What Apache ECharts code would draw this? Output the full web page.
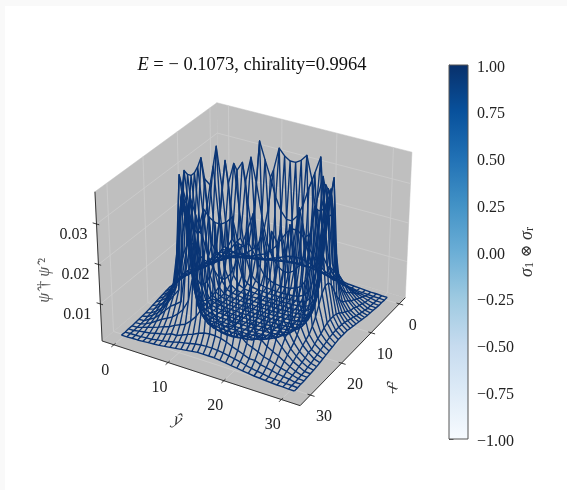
<!DOCTYPE html>
<html><head><meta charset="utf-8">
<style>
html,body{margin:0;padding:0;background:#fff;width:567px;height:490px;overflow:hidden}
#edge{position:absolute;left:0;top:0;width:567px;height:490px;box-sizing:border-box;border-left:5px solid #f9f9f9;border-top:6px solid #f9f9f9}
#c{position:absolute;left:0;top:0;width:567px;height:490px;filter:blur(0.45px)}
</style>
<script src="https://cdn.jsdelivr.net/npm/echarts@6/dist/echarts.min.js"></script>
</head><body><div id="edge"></div><div id="c"></div>
<script>
// Mesh coordinates
const xValues=[0,1,2,3,4,5,6,7,8,9,10,11,12,13,14,15,16,17,18,19,20,21,22,23,24,25,26,27,28,29,30,31];
const yValues=[0,1,2,3,4,5,6,7,8,9,10,11,12,13,14,15,16,17,18,19,20,21,22,23,24,25,26,27,28,29,30,31];
// Height of the surface, in units of 0.0001; one row per x value
const zRows=[
[12,12,13,13,14,15,16,17,19,21,23,25,27,29,31,31,31,31,29,27,25,23,21,19,17,16,15,14,13,13,12,12],
[12,13,13,14,15,16,19,21,24,27,31,34,37,40,42,43,43,42,40,37,34,31,27,24,21,19,16,15,14,13,13,12],
[13,13,16,18,20,24,27,30,36,36,42,48,53,60,65,67,67,65,60,53,48,42,36,36,30,27,24,20,18,16,13,13],
[13,14,18,23,27,32,38,42,50,56,62,75,91,114,136,148,148,136,114,91,75,62,56,50,42,38,32,27,23,18,14,13],
[14,15,20,27,36,45,52,60,72,88,114,190,295,354,338,329,329,338,354,295,190,114,88,72,60,52,45,36,27,20,15,14],
[15,16,24,32,45,60,75,85,96,190,367,324,283,236,204,187,187,204,236,283,324,367,190,96,85,75,60,45,32,24,16,15],
[16,19,27,38,52,75,95,114,265,329,267,187,122,86,67,58,58,67,86,122,187,267,329,265,114,95,75,52,38,27,19,16],
[17,21,30,42,60,85,114,295,319,220,122,67,43,33,28,26,26,28,33,43,67,122,220,319,295,114,85,60,42,30,21,17],
[19,24,36,50,72,96,265,319,204,96,47,30,23,20,19,18,18,19,20,23,30,47,96,204,319,265,96,72,50,36,24,19],
[21,27,36,56,88,190,329,220,96,43,26,20,18,17,16,16,16,16,17,18,20,26,43,96,220,329,190,88,56,36,27,21],
[23,31,42,62,114,367,267,122,47,26,19,17,16,15,14,14,14,14,15,16,17,19,26,47,122,267,367,114,62,42,31,23],
[25,34,48,75,190,324,187,67,30,20,17,15,14,14,13,13,13,13,14,14,15,17,20,30,67,187,324,190,75,48,34,25],
[27,37,53,91,295,283,122,43,23,18,16,14,14,13,13,13,13,13,13,14,14,16,18,23,43,122,283,295,91,53,37,27],
[29,40,60,114,354,236,86,33,20,17,15,14,13,13,12,12,12,12,13,13,14,15,17,20,33,86,236,354,114,60,40,29],
[31,42,65,136,338,204,67,28,19,16,14,13,13,12,12,12,12,12,12,13,13,14,16,19,28,67,204,338,136,65,42,31],
[31,43,67,148,329,187,58,26,18,16,14,13,13,12,12,12,12,12,12,13,13,14,16,18,26,58,187,329,148,67,43,31],
[31,43,67,148,329,187,58,26,18,16,14,13,13,12,12,12,12,12,12,13,13,14,16,18,26,58,187,329,148,67,43,31],
[31,42,65,136,338,204,67,28,19,16,14,13,13,12,12,12,12,12,12,13,13,14,16,19,28,67,204,338,136,65,42,31],
[29,40,60,114,354,236,86,33,20,17,15,14,13,13,12,12,12,12,13,13,14,15,17,20,33,86,236,354,114,60,40,29],
[27,37,53,91,295,283,122,43,23,18,16,14,14,13,13,13,13,13,13,14,14,16,18,23,43,122,283,295,91,53,37,27],
[25,34,48,75,190,324,187,67,30,20,17,15,14,14,13,13,13,13,14,14,15,17,20,30,67,187,324,190,75,48,34,25],
[23,31,42,62,114,367,267,122,47,26,19,17,16,15,14,14,14,14,15,16,17,19,26,47,122,267,367,114,62,42,31,23],
[21,27,36,56,88,190,329,220,96,43,26,20,18,17,16,16,16,16,17,18,20,26,43,96,220,329,190,88,56,36,27,21],
[19,24,36,50,72,96,265,319,204,96,47,30,23,20,19,18,18,19,20,23,30,47,96,204,319,265,96,72,50,36,24,19],
[17,21,30,42,60,85,114,295,319,220,122,67,43,33,28,26,26,28,33,43,67,122,220,319,295,114,85,60,42,30,21,17],
[16,19,27,38,52,75,95,114,265,329,267,187,122,86,67,58,58,67,86,122,187,267,329,265,114,95,75,52,38,27,19,16],
[15,16,24,32,45,60,75,85,96,190,367,324,283,236,204,187,187,204,236,283,324,367,190,96,85,75,60,45,32,24,16,15],
[14,15,20,27,36,45,52,60,72,88,114,190,295,354,338,329,329,338,354,295,190,114,88,72,60,52,45,36,27,20,15,14],
[13,14,18,23,27,32,38,42,50,56,62,75,91,114,136,148,148,136,114,91,75,62,56,50,42,38,32,27,23,18,14,13],
[13,13,16,18,20,24,27,30,36,36,42,48,53,60,65,67,67,65,60,53,48,42,36,36,30,27,24,20,18,16,13,13],
[12,13,13,14,15,16,19,21,24,27,31,34,37,40,42,43,43,42,40,37,34,31,27,24,21,19,16,15,14,13,13,12],
[12,12,13,13,14,15,16,17,19,21,23,25,27,29,31,31,31,31,29,27,25,23,21,19,17,16,15,14,13,13,12,12]
];
const zUnit=0.0001;
const xTicks=[0,10,20,30];
const yTicks=[0,10,20,30];
const zTicks=[0.01,0.02,0.03];
const colorbarTicks=[-1,-0.75,-0.5,-0.25,0,0.25,0.5,0.75,1];
const blues=['#f7fbff','#deebf7','#c6dbef','#9ecae1','#6baed6','#4292c6','#2171b5','#08519c','#08306b'];
const titleText='{e|E}{r| = − 0.1073, chirality=0.9964}';

// Box limits and view of the 3D axes
const xLim=[-2.2,33.2], yLim=[-2.2,33.2], zLim=[0.0004,0.0378];
const box=[1.1905,1.1905,0.8929], dist=10;
const elev=30*Math.PI/180, azim=30*Math.PI/180;
const W=[Math.cos(elev)*Math.cos(azim),Math.cos(elev)*Math.sin(azim),Math.sin(elev)];
const U=[-Math.sin(azim),Math.cos(azim),0];
const V=[W[1]*U[2]-W[2]*U[1],W[2]*U[0]-W[0]*U[2],W[0]*U[1]-W[1]*U[0]];
function project(x,y,z){
  const d=[((x-xLim[0])/(xLim[1]-xLim[0])-0.5)*box[0],((y-yLim[0])/(yLim[1]-yLim[0])-0.5)*box[1],((z-zLim[0])/(zLim[1]-zLim[0])-0.5)*box[2]];
  const dot=(a)=>a[0]*d[0]+a[1]*d[1]+a[2]*d[2];
  const depth=dist-dot(W);
  return [dot(U)/depth,dot(V)/depth];
}
// Mesh polylines
const meshLines=[];
xValues.forEach((x,i)=>meshLines.push(yValues.map((y,j)=>[x,y,zRows[i][j]*zUnit])));
yValues.forEach((y,j)=>meshLines.push(xValues.map((x,i)=>[x,y,zRows[i][j]*zUnit])));

const [x0,x1]=xLim,[y0,y1]=yLim,[z0,z1]=zLim;
const panes=[
 [[x0,y0,z0],[x1,y0,z0],[x1,y1,z0],[x0,y1,z0]],
 [[x0,y0,z0],[x1,y0,z0],[x1,y0,z1],[x0,y0,z1]],
 [[x0,y0,z0],[x0,y1,z0],[x0,y1,z1],[x0,y0,z1]]
];
const gridLines=[];
xTicks.forEach(t=>gridLines.push([[t,y1,z0],[t,y0,z0],[t,y0,z1]]));
yTicks.forEach(t=>gridLines.push([[x1,t,z0],[x0,t,z0],[x0,t,z1]]));
zTicks.forEach(t=>gridLines.push([[x1,y0,t],[x0,y0,t],[x0,y1,t]]));
const axisLines=[
 [[x1,y0,z1],[x1,y0,z0],[x1,y1,z0],[x0,y1,z0]]
];
xTicks.forEach(t=>axisLines.push([[t,y1-0.5,z0],[t,y1+0.7,z0]]));
yTicks.forEach(t=>axisLines.push([[x1-0.5,t,z0],[x1+0.7,t,z0]]));
zTicks.forEach(t=>axisLines.push([[x1,y0+0.5,t],[x1,y0-0.7,t]]));

const serif='"Liberation Serif","Times New Roman",serif';
const labels=[];
yTicks.forEach(t=>labels.push({p:[x1,t,z0],dx:-8.5,dy:25.5,text:String(t)}));
xTicks.forEach(t=>labels.push({p:[t,y1,z0],dx:13.5,dy:22,text:String(t)}));
zTicks.forEach(t=>labels.push({p:[x1,y0,t],dx:-23,dy:10.5,text:t.toFixed(2)}));
labels.push({p:[x1,15.5,z0],dx:-21,dy:48,text:'ŷ',rot:-0.32,size:18,italic:true,fill:'#333'});
labels.push({p:[15.5,y1,z0],dx:37,dy:38,text:'x̂',rot:0.8,size:18,italic:true,fill:'#333'});
labels.push({p:[x1,y0,0.0145],dx:-55,dy:-6,text:'{i|ψ̂}{r| † }{i|ψ̂}{r| ²}',rot:Math.PI/2,size:16,fill:'#555'});

function polySeries(list,style,poly){
  return {type:'custom',coordinateSystem:'cartesian2d',xAxisIndex:0,yAxisIndex:0,clip:false,silent:true,animation:false,
    data:list.map((_,i)=>[i]),
    renderItem(params,api){
      const pts=list[params.dataIndex].map(p=>api.coord(project(p[0],p[1],p[2])));
      return poly?{type:'polygon',shape:{points:pts},style:style,silent:true}
                 :{type:'polyline',shape:{points:pts},style:Object.assign({fill:null},style),silent:true};
    }};
}
const S=1905,cx=256.5,cy=246.9;
const option={
  animation:false,
  title:{text:titleText,left:247,top:51,textAlign:'center',textStyle:{fontWeight:'normal',rich:{
    e:{fontFamily:serif,fontStyle:'italic',fontWeight:'normal',fontSize:18.5,color:'#111'},
    r:{fontFamily:serif,fontWeight:'normal',fontSize:18.5,color:'#111'}}}},
  grid:[{left:0,top:0,width:567,height:490,containLabel:false},
        {left:449,top:65,width:19,height:374}],
  xAxis:[{type:'value',gridIndex:0,min:(0-cx)/S,max:(567-cx)/S,show:false},
         {type:'value',gridIndex:1,min:0,max:1,show:false}],
  yAxis:[{type:'value',gridIndex:0,min:(cy-490)/S,max:cy/S,show:false},
         {type:'value',gridIndex:1,min:-1,max:1,interval:0.25,position:'right',
          axisLine:{show:true,lineStyle:{color:'#555',width:1}},
          axisTick:{show:true,length:4.5,lineStyle:{color:'#333',width:0.8}},
          splitLine:{show:false},
          axisLabel:{margin:9,customValues:colorbarTicks,
            formatter:v=>'{t|'+(v<0?'−':'')+Math.abs(v).toFixed(2)+'}',
            rich:{t:{fontFamily:serif,fontSize:16,color:'#222',padding:[5,0,0,0]}}},
          name:'{i|σ}{s|1}{r| ⊗ }{i|σ}{s|r}',nameLocation:'middle',nameGap:50,nameRotate:90,
          nameTextStyle:{rich:{
            i:{fontFamily:serif,fontStyle:'italic',fontSize:18,color:'#333'},
            r:{fontFamily:'"DejaVu Serif",'+serif,fontSize:15,color:'#333'},
            s:{fontFamily:serif,fontSize:12,color:'#333',verticalAlign:'bottom',padding:[6,0,0,0]}}}}],
  series:[
    polySeries(panes,{fill:'#bfbfbf',stroke:'#bfbfbf',lineWidth:0.5},true),
    polySeries(gridLines,{stroke:'#cccccc',lineWidth:0.9}),
    polySeries(axisLines,{stroke:'#222',lineWidth:0.9}),
    polySeries(meshLines,{stroke:'#0a3575',lineWidth:1.4,lineJoin:'round'}),
    {type:'custom',coordinateSystem:'cartesian2d',xAxisIndex:0,yAxisIndex:0,clip:false,silent:true,animation:false,
     data:labels.map((_,i)=>[i]),
     renderItem(params,api){
       const l=labels[params.dataIndex];
       const c=api.coord(project(l.p[0],l.p[1],l.p[2]));
       const size=l.size||16, fill=l.fill||'#222';
       return {type:'text',x:c[0]+l.dx,y:c[1]+l.dy,rotation:l.rot||0,silent:true,
         style:{text:l.text,fontFamily:serif,fontSize:size,fontStyle:l.italic?'italic':'normal',
           fill:fill,align:'center',verticalAlign:'middle',
           rich:{i:{fontFamily:serif,fontStyle:'italic',fontSize:size,fill:fill},r:{fontFamily:serif,fontSize:size,fill:fill}}}};
     }},
    {type:'custom',coordinateSystem:'cartesian2d',xAxisIndex:1,yAxisIndex:1,clip:false,silent:true,animation:false,
     data:[[0,-1,1,1]],
     renderItem(params,api){
       const a=api.coord([api.value(0),api.value(2)]), b=api.coord([api.value(3),api.value(1)]);
       return {type:'rect',shape:{x:a[0],y:a[1],width:b[0]-a[0],height:b[1]-a[1]},silent:true,
         style:{stroke:'#555',lineWidth:1,
           fill:new echarts.graphic.LinearGradient(0,1,0,0,blues.map((c,i)=>({offset:i/(blues.length-1),color:c})))}};
     }}
  ]
};
const chart=echarts.init(document.getElementById('c'),null,{renderer:'canvas',width:567,height:490});
chart.setOption(option);
</script></body></html>
